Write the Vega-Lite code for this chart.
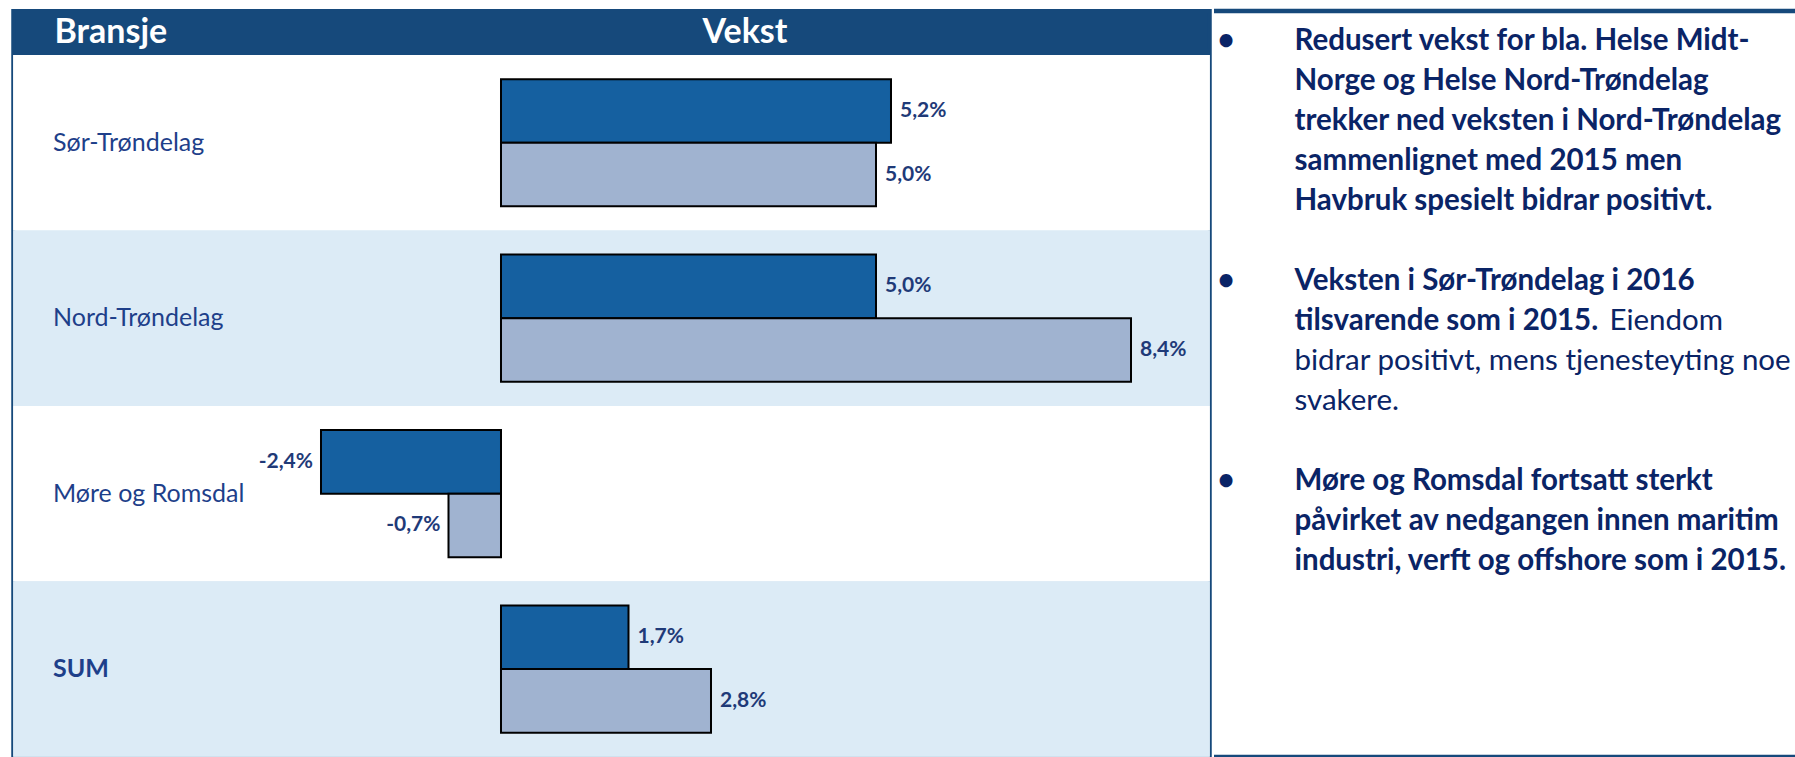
{
  "$schema": "https://vega.github.io/schema/vega-lite/v6.json",
  "padding": {"left": 11.25, "top": 7, "right": 0, "bottom": 0},
  "background": "white",
  "spacing": 0,
  "config": {
    "locale": {"number": {"decimal": ",", "thousands": " ", "grouping": [3], "currency": ["", " kr"], "minus": "-", "percent": "%"}},
    "view": {"stroke": null},
    "font": "Lato"
  },
  "datasets": {
    "growth": [
      {"region": "Sør-Trøndelag", "year": "2016", "growth": 0.052},
      {"region": "Sør-Trøndelag", "year": "2015", "growth": 0.050},
      {"region": "Nord-Trøndelag", "year": "2016", "growth": 0.050},
      {"region": "Nord-Trøndelag", "year": "2015", "growth": 0.084},
      {"region": "Møre og Romsdal", "year": "2016", "growth": -0.024},
      {"region": "Møre og Romsdal", "year": "2015", "growth": -0.007},
      {"region": "SUM", "year": "2016", "growth": 0.017},
      {"region": "SUM", "year": "2015", "growth": 0.028}
    ],
    "notes": [
      {"line": 0, "seg": "bullet", "kind": "bullet", "txt": "•"},
      {"line": 0, "seg": "start", "kind": "bold", "txt": "Redusert vekst for bla. Helse Midt-"},
      {"line": 1, "seg": "start", "kind": "bold", "txt": "Norge og Helse Nord-Trøndelag"},
      {"line": 2, "seg": "start", "kind": "bold", "txt": "trekker ned veksten i Nord-Trøndelag"},
      {"line": 3, "seg": "start", "kind": "bold", "txt": "sammenlignet med 2015 men"},
      {"line": 4, "seg": "start", "kind": "bold", "txt": "Havbruk spesielt bidrar positivt."},
      {"line": 6, "seg": "bullet", "kind": "bullet", "txt": "•"},
      {"line": 6, "seg": "start", "kind": "bold", "txt": "Veksten i Sør-Trøndelag i 2016"},
      {"line": 7, "seg": "start", "kind": "bold", "txt": "tilsvarende som i 2015."},
      {"line": 7, "seg": "after", "kind": "plain", "txt": "Eiendom"},
      {"line": 8, "seg": "start", "kind": "plain", "txt": "bidrar positivt, mens tjenesteyting noe"},
      {"line": 9, "seg": "start", "kind": "plain", "txt": "svakere."},
      {"line": 11, "seg": "bullet", "kind": "bullet", "txt": "•"},
      {"line": 11, "seg": "start", "kind": "bold", "txt": "Møre og Romsdal fortsatt sterkt"},
      {"line": 12, "seg": "start", "kind": "bold", "txt": "påvirket av nedgangen innen maritim"},
      {"line": 13, "seg": "start", "kind": "bold", "txt": "industri, verft og offshore som i 2015."}
    ]
  },
  "hconcat": [
    {
      "spacing": 0,
      "vconcat": [
        {
          "width": 1196.5,
          "height": 40,
          "view": {"fill": "#16497b", "stroke": "#16497b", "strokeWidth": 4},
          "data": {"values": [{"col": "Bransje"}, {"col": "Vekst"}]},
          "encoding": {
            "x": {"field": "col", "type": "nominal", "axis": null, "scale": {"type": "point", "domain": ["Bransje", "Vekst"], "range": [41.25, 731.75], "padding": 0}},
            "text": {"field": "col"}
          },
          "layer": [
            {
              "transform": [{"filter": "datum.col === 'Bransje'"}],
              "mark": {"type": "text", "align": "left", "baseline": "middle", "dy": 2, "font": "Lato", "fontSize": 34, "fontWeight": "bold", "color": "white"}
            },
            {
              "transform": [{"filter": "datum.col === 'Vekst'"}],
              "mark": {"type": "text", "align": "center", "baseline": "middle", "dy": 2, "font": "Lato", "fontSize": 34, "fontWeight": "bold", "color": "white"}
            }
          ]
        },
        {
          "width": 1196.5,
          "height": 701.8,
          "view": {"fill": "white", "stroke": "#16497b", "strokeWidth": 4},
          "data": {"name": "growth"},
          "encoding": {
            "y": {
              "field": "region", "type": "nominal",
              "sort": ["Sør-Trøndelag", "Nord-Trøndelag", "Møre og Romsdal", "SUM"],
              "scale": {"domain": ["Sør-Trøndelag", "Nord-Trøndelag", "Møre og Romsdal", "SUM"], "paddingInner": 0, "paddingOuter": 0},
              "axis": {
                "orient": "left", "title": null, "domain": false, "ticks": false, "tickSize": 0, "grid": false,
                "labelPadding": 0, "offset": -39.25, "labelAlign": "left", "labelBaseline": "middle",
                "labelFont": "Lato", "labelFontSize": 25, "labelColor": "#1e3f8a", "labelLimit": 0,
                "labelFontWeight": {"condition": {"test": "datum.value === 'SUM'", "value": "bold"}, "value": "normal"},
                "minExtent": 0, "titlePadding": 0, "zindex": 2
              }
            }
          },
          "layer": [
            {
              "mark": {"type": "rect"},
              "encoding": {
                "x": {"datum": -0.0650333, "type": "quantitative", "scale": {"domain": [-0.0650333, 0.0945], "nice": false, "zero": false}, "axis": null},
                "x2": {"datum": 0.0945},
                "fill": {"field": "region", "type": "nominal", "scale": {"domain": ["Sør-Trøndelag", "Nord-Trøndelag", "Møre og Romsdal", "SUM"], "range": ["#ffffff", "#dcebf6", "#ffffff", "#dcebf6"]}, "legend": null}
              }
            },
            {
              "mark": {"type": "bar", "stroke": "black", "strokeWidth": 2},
              "encoding": {
                "x": {
                  "field": "growth", "type": "quantitative",
                  "scale": {"domain": [-0.0650333, 0.0945], "nice": false, "zero": false},
                  "axis": {"values": [0], "grid": true, "gridColor": "black", "gridWidth": 2, "labels": false, "ticks": false, "domain": false, "title": null, "minExtent": 0, "zindex": 1}
                },
                "yOffset": {"field": "year", "type": "nominal", "sort": ["2016", "2015"], "scale": {"domain": ["2016", "2015"], "paddingInner": 0, "paddingOuter": 0.38}},
                "color": {"field": "year", "type": "nominal", "scale": {"domain": ["2016", "2015"], "range": ["#1560a0", "#a0b3d0"]}, "legend": null}
              }
            },
            {
              "transform": [{"filter": "datum.growth >= 0"}],
              "mark": {"type": "text", "align": "left", "baseline": "middle", "dx": 9, "font": "Lato", "fontSize": 21, "fontWeight": "bold", "color": "#1f3a78"},
              "encoding": {
                "x": {"field": "growth", "type": "quantitative"},
                "yOffset": {"field": "year", "type": "nominal", "sort": ["2016", "2015"]},
                "text": {"field": "growth", "type": "quantitative", "format": ".1%"}
              }
            },
            {
              "transform": [{"filter": "datum.growth < 0"}],
              "mark": {"type": "text", "align": "right", "baseline": "middle", "dx": -8, "font": "Lato", "fontSize": 21, "fontWeight": "bold", "color": "#1f3a78"},
              "encoding": {
                "x": {"field": "growth", "type": "quantitative"},
                "yOffset": {"field": "year", "type": "nominal", "sort": ["2016", "2015"]},
                "text": {"field": "growth", "type": "quantitative", "format": ".1%"}
              }
            }
          ]
        }
      ]
    },
    {
      "width": 578,
      "height": 746,
      "view": {"fill": "white", "stroke": "#16497b", "strokeWidth": 4.5, "strokeDash": [578, 746, 578, 746], "strokeCap": "square"},
      "data": {"name": "notes"},
      "encoding": {
        "y": {"field": "line", "type": "quantitative", "axis": null, "scale": {"domain": [0, 13], "range": [39, 559], "nice": false, "zero": false}},
        "text": {"field": "txt"}
      },
      "layer": [
        {
          "transform": [{"filter": "datum.kind !== 'plain'"}],
          "mark": {"type": "text", "align": "left", "baseline": "alphabetic", "font": "Lato", "fontSize": 29.5, "fontWeight": "bold", "color": "#0a2466", "clip": true},
          "encoding": {
            "x": {"field": "seg", "type": "nominal", "axis": null, "scale": {"type": "point", "domain": ["bullet", "start"], "range": [1.25, 78.25], "padding": 0}}
          }
        },
        {
          "transform": [{"filter": "datum.kind === 'plain' && datum.seg === 'start'"}],
          "mark": {"type": "text", "align": "left", "baseline": "alphabetic", "font": "Lato", "fontSize": 29.5, "fontWeight": "normal", "color": "#0a2466", "clip": true},
          "encoding": {
            "x": {"field": "seg", "type": "nominal", "axis": null}
          }
        },
        {
          "transform": [{"filter": "datum.seg === 'after'"}],
          "mark": {"type": "text", "align": "left", "baseline": "alphabetic", "dx": 315, "font": "Lato", "fontSize": 29.5, "fontWeight": "normal", "color": "#0a2466", "clip": true},
          "encoding": {
            "x": {"datum": "start", "type": "nominal", "axis": null}
          }
        }
      ]
    }
  ]
}
